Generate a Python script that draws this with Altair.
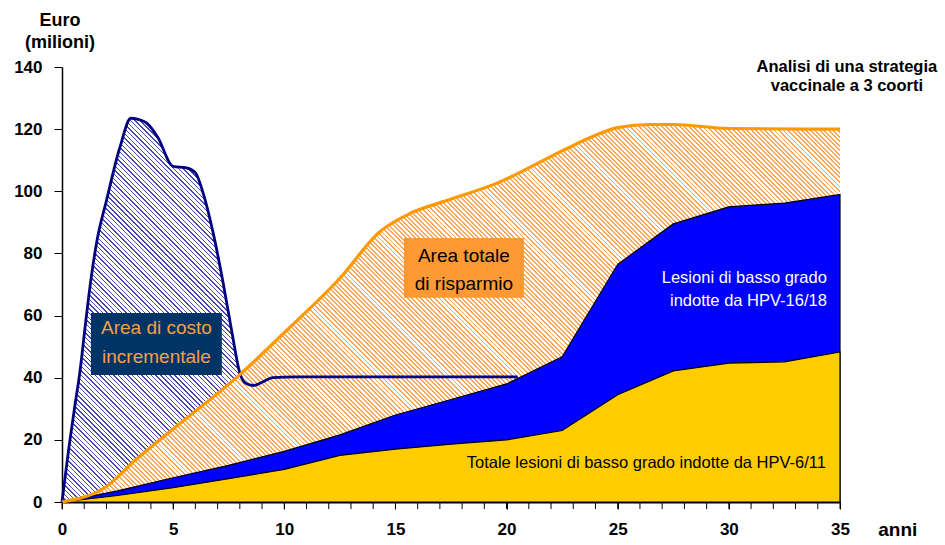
import math
import altair as alt
import pandas as pd

# ---------------- data ----------------
years_stack = [0, 2.5, 5, 7.5, 10, 12.5, 15, 17.5, 20, 22.5, 25, 27.5, 30, 32.5, 35]
hpv_6_11 = [0, 2.1, 4.6, 7.5, 10.5, 15, 17, 18.6, 20, 23, 34.5, 42.2, 44.7, 45.1, 48.3]
hpv_total = [0, 3.6, 7.8, 11.8, 16.3, 21.6, 28, 33, 38, 46.7, 76.5, 89.5, 95, 96.2, 99]

years_saving = [0, 2, 3.3, 5, 8, 10, 12.5, 14.3, 15.7, 17.3, 19.6, 22.5, 24, 25, 26.5, 27.5, 30, 35]
saving_total = [0, 5, 13.5, 23.5, 41, 54.5, 72, 87, 93, 97, 102.7, 113, 118, 120.5, 121.5, 121.5, 120.2, 120]

years_cost = [0, 0.3, 0.6, 0.8, 1.05, 1.2, 1.57, 2.0, 2.6, 3.1, 3.5, 3.8, 4.3, 5.0, 5.6, 6.0, 6.35,
              6.8, 7.25, 7.65, 8.0, 8.25, 8.6, 9.5, 10.5, 20.5]
cost_curve = [0, 17, 32, 41.5, 57, 66, 84, 97, 114, 123.5, 123, 122, 117.5, 108, 107.5, 106, 99.4,
              86.6, 70.5, 54.4, 41.5, 38.3, 37.5, 40, 40.3, 40.3]

x_labels = [0, 5, 10, 15, 20, 25, 30, 35]
x_minor = list(range(0, 36))
y_ticks = [0, 20, 40, 60, 80, 100, 120, 140]

FONT = "Liberation Sans, Arial, sans-serif"

W, H = 778, 435
XMAX, YMAX = 35, 140

df_stack = pd.DataFrame({"x": years_stack, "low": hpv_6_11, "high": hpv_total})
df_save = pd.DataFrame({"x": years_saving, "y": saving_total})
df_cost = pd.DataFrame({"x": years_cost, "y": cost_curve})
df_cost_area = df_cost[df_cost["x"] <= 8.0]
df_minor = pd.DataFrame({"x": x_minor})


def hatch(color, bg, xspan, yspan, direction, period=3.2, duty=0.5):
    """Diagonal stripe fill built as a linear gradient in bounding-box units."""
    bw = xspan / XMAX * W
    bh = yspan / YMAX * H
    s = (bw + bh) / (bw * bw + bh * bh)
    length = (bw + bh) / math.sqrt(2)
    n = max(1, int(round(length / period)))
    stops = []
    for k in range(n):
        a = k / n
        b = (k + duty) / n
        c = (k + 1) / n
        stops += [{"offset": a, "color": color}, {"offset": b, "color": color},
                  {"offset": b, "color": bg}, {"offset": c, "color": bg}]
    if direction == "slash":  # lines going up-right
        g = {"gradient": "linear", "x1": 0, "y1": 0, "x2": s * bw, "y2": s * bh, "stops": stops}
    else:  # backslash, lines going down-right
        g = {"gradient": "linear", "x1": 0, "y1": 1, "x2": s * bw, "y2": 1 - s * bh, "stops": stops}
    return g


xscale = alt.Scale(domain=[0, XMAX], nice=False, zero=False)
yscale = alt.Scale(domain=[0, YMAX], nice=False)

xaxis = alt.Axis(values=x_labels, format="d", title=None, grid=False, tickSize=7,
                 tickColor="black", tickWidth=1, domainColor="black", domainWidth=2,
                 labelPadding=12, labelFont=FONT, labelFontSize=17, labelFontWeight="bold",
                 labelColor="black", labelFlush=False, labelOverlap=False)
yaxis = alt.Axis(values=y_ticks, title=None, grid=False, tickSize=8, tickColor="black",
                 tickWidth=1, domainColor="black", domainWidth=1.5, labelPadding=12,
                 labelFont=FONT, labelFontSize=17, labelFontWeight="bold", labelColor="black",
                 labelOverlap=False)

base_x = alt.X("x:Q", scale=xscale, axis=xaxis)

cost_hatch = alt.Chart(df_cost_area).mark_area(
    interpolate="monotone",
    fill=hatch("#4848ae", "#ffffff", 8.0, max(cost_curve), "backslash", period=3.3, duty=0.3),
).encode(x=base_x, y=alt.Y("y:Q", scale=yscale, axis=yaxis))

save_hatch = alt.Chart(df_save).mark_area(
    interpolate="monotone",
    fill=hatch("#f9a65a", "#ffffff", XMAX, max(saving_total), "backslash", period=3.2, duty=0.42),
).encode(x=alt.X("x:Q", scale=xscale), y=alt.Y("y:Q", scale=yscale))

blue_area = alt.Chart(df_stack).mark_area(
    color="#0000ff", stroke="black", strokeWidth=1.2
).encode(x=alt.X("x:Q", scale=xscale), y=alt.Y("high:Q", scale=yscale))

yellow_area = alt.Chart(df_stack).mark_area(
    color="#ffcc00", stroke="black", strokeWidth=1.2
).encode(x=alt.X("x:Q", scale=xscale), y=alt.Y("low:Q", scale=yscale))

cost_line = alt.Chart(df_cost).mark_line(
    interpolate="monotone", color="#000080", strokeWidth=2.8
).encode(x=alt.X("x:Q", scale=xscale), y=alt.Y("y:Q", scale=yscale))

save_line = alt.Chart(df_save).mark_line(
    interpolate="monotone", color="#ff9900", strokeWidth=3.2
).encode(x=alt.X("x:Q", scale=xscale), y=alt.Y("y:Q", scale=yscale))

minor_ticks = alt.Chart(df_minor).mark_rule(color="black", strokeWidth=1).encode(
    x=alt.X("x:Q", scale=xscale), y=alt.value(H), y2=alt.value(H + 7)
)

# annotation boxes
boxes = pd.DataFrame({
    "x": [1.30, 15.38], "x2": [7.19, 20.78], "y": [60.8, 85.0], "y2": [40.9, 65.7],
    "c": ["#003366", "#ff9933"],
})
box_layer = alt.Chart(boxes).mark_rect().encode(
    x=alt.X("x:Q", scale=xscale), x2="x2", y=alt.Y("y:Q", scale=yscale), y2="y2",
    color=alt.Color("c:N", scale=None),
)


def label(txt, x, y, color, size, align="center", weight="normal", lh=None):
    d = pd.DataFrame({"x": [x], "y": [y], "t": [txt]})
    kw = dict(align=align, baseline="middle", font=FONT, fontSize=size, color=color,
              fontWeight=weight, lineBreak="\n")
    if lh:
        kw["lineHeight"] = lh
    return alt.Chart(d).mark_text(**kw).encode(
        x=alt.X("x:Q", scale=xscale), y=alt.Y("y:Q", scale=yscale), text="t:N")


texts = [
    label("Area di costo\nincrementale", 4.25, 56.0, "#f7a040", 19, lh=29),
    label("Area totale\ndi risparmio", 18.08, 79.2, "black", 19, lh=28),
    label("Lesioni di basso grado\nindotte da HPV-16/18", 34.41, 72.1, "white", 16.5, align="right", lh=23),
    label("Totale lesioni di basso grado indotte da HPV-6/11", 34.37, 12.6, "black", 16.5, align="right"),
    label("Analisi di una strategia\nvaccinale a 3 coorti", 35.31, 140.0, "black", 16.5, weight="bold", lh=19),
    label("Euro\n(milioni)", -0.09, 154.8, "black", 18, weight="bold", lh=22),
    label("anni", 37.6, -9.0, "black", 19, weight="bold"),
]

chart = alt.layer(
    cost_hatch, save_hatch, blue_area, yellow_area, cost_line, save_line, minor_ticks,
    box_layer, *texts
).properties(
    width=W, height=H,
    background="white",
    autosize=alt.AutoSizeParams(type="none"),
    padding={"left": 62, "top": 67, "right": 945 - 62 - W, "bottom": 545 - 67 - H},
).configure_view(stroke=None)

chart.save("out.html", embed_options={"renderer": "svg", "actions": False})
